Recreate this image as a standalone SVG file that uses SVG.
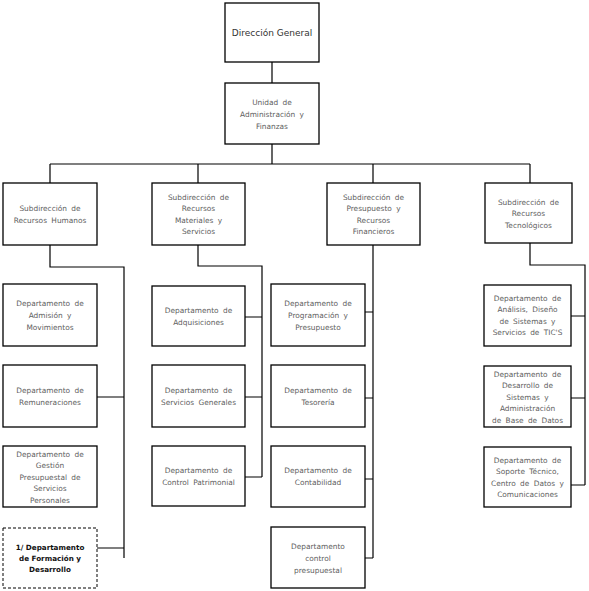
<svg xmlns="http://www.w3.org/2000/svg" width="589" height="591" viewBox="0 0 589 591">
<style>
rect.b{fill:#fff;stroke:#000;stroke-width:1.3}
rect.d{fill:#fff;stroke:#000;stroke-width:1;stroke-dasharray:3 2}
text{font-family:"DejaVu Sans",Verdana,sans-serif;font-size:7.4px;fill:#606060;text-anchor:middle;dominant-baseline:central;word-spacing:2px}
text.t{font-size:9px;fill:#333;word-spacing:0}
text.k{fill:#111;font-weight:bold;font-size:7.2px;word-spacing:0}
#connectors path{fill:none;stroke:#000;stroke-width:1.2}
</style>
<rect width="589" height="591" fill="#fff"/>
<g id="connectors">
<path d="M272 62V83M272 144V164M50 164H530M50 164V183M198 164V183M373 164V183M530 164V183"/>
<path d="M50 245V267H124V558M97 397H124M97 548H124"/>
<path d="M198 245V266H262V477M245 317H262M245 397H262M245 477H262"/>
<path d="M373 245V558M365 312H373M365 398H373M365 479H373M365 558H373"/>
<path d="M530 243V265H585V485M571 316H585M571 398H585M571 485H585"/>
</g>
<g id="dg"><rect class="b" x="225" y="3" width="94" height="59"/><text class="t" x="272" y="33">Dirección General</text></g>
<g id="uaf"><rect class="b" x="225" y="83" width="94" height="61"/><text x="272" y="102">Unidad de</text><text x="272" y="114">Administración y</text><text x="272" y="126">Finanzas</text></g>
<g id="srh"><rect class="b" x="3" y="183" width="94" height="62"/><text x="50" y="208">Subdirección de</text><text x="50" y="220">Recursos Humanos</text></g>
<g id="srm"><rect class="b" x="152" y="183" width="93" height="62"/><text x="198.5" y="197">Subdirección de</text><text x="198.5" y="208.5">Recursos</text><text x="198.5" y="220">Materiales y</text><text x="198.5" y="231.5">Servicios</text></g>
<g id="spf"><rect class="b" x="327" y="183" width="93" height="62"/><text x="373.5" y="197">Subdirección de</text><text x="373.5" y="208.5">Presupuesto y</text><text x="373.5" y="220">Recursos</text><text x="373.5" y="231.5">Financieros</text></g>
<g id="srt"><rect class="b" x="485" y="183" width="87" height="60"/><text x="528.5" y="202">Subdirección de</text><text x="528.5" y="213.5">Recursos</text><text x="528.5" y="225">Tecnológicos</text></g>

<g id="d11"><rect class="b" x="3" y="284" width="94" height="62"/><text x="50" y="303">Departamento de</text><text x="50" y="315">Admisión y</text><text x="50" y="327">Movimientos</text></g>
<g id="d12"><rect class="b" x="3" y="365" width="94" height="62"/><text x="50" y="390">Departamento de</text><text x="50" y="402">Remuneraciones</text></g>
<g id="d13"><rect class="b" x="3" y="446" width="94" height="61"/><text x="50" y="454">Departamento de</text><text x="50" y="465.5">Gestión</text><text x="50" y="477">Presupuestal de</text><text x="50" y="488.5">Servicios</text><text x="50" y="500">Personales</text></g>
<g id="d14"><rect class="d" x="3" y="528" width="94" height="60"/><text class="k" x="50" y="547">1/ Departamento</text><text class="k" x="50" y="558">de Formación y</text><text class="k" x="50" y="569">Desarrollo</text></g>

<g id="d21"><rect class="b" x="152" y="286" width="93" height="60"/><text x="198.5" y="310">Departamento de</text><text x="198.5" y="322">Adquisiciones</text></g>
<g id="d22"><rect class="b" x="152" y="365" width="93" height="62"/><text x="198.5" y="390">Departamento de</text><text x="198.5" y="402">Servicios Generales</text></g>
<g id="d23"><rect class="b" x="152" y="446" width="93" height="60"/><text x="198.5" y="470">Departamento de</text><text x="198.5" y="482">Control Patrimonial</text></g>

<g id="d31"><rect class="b" x="271" y="284" width="94" height="62"/><text x="318" y="303">Departamento de</text><text x="318" y="315">Programación y</text><text x="318" y="327">Presupuesto</text></g>
<g id="d32"><rect class="b" x="271" y="365" width="94" height="62"/><text x="318" y="390">Departamento de</text><text x="318" y="402">Tesorería</text></g>
<g id="d33"><rect class="b" x="271" y="446" width="94" height="61"/><text x="318" y="470">Departamento de</text><text x="318" y="482">Contabilidad</text></g>
<g id="d34"><rect class="b" x="271" y="527" width="94" height="61"/><text x="318" y="546">Departamento</text><text x="318" y="558">control</text><text x="318" y="570">presupuestal</text></g>

<g id="d41"><rect class="b" x="484" y="285" width="87" height="61"/><text x="527.5" y="298">Departamento de</text><text x="527.5" y="309.5">Análisis, Diseño</text><text x="527.5" y="321">de Sistemas y</text><text x="527.5" y="332.5">Servicios de TIC'S</text></g>
<g id="d42"><rect class="b" x="484" y="366" width="87" height="61"/><text x="527.5" y="374">Departamento de</text><text x="527.5" y="385.5">Desarrollo de</text><text x="527.5" y="397">Sistemas y</text><text x="527.5" y="408.5">Administración</text><text x="527.5" y="420">de Base de Datos</text></g>
<g id="d43"><rect class="b" x="484" y="447" width="87" height="60"/><text x="527.5" y="460">Departamento de</text><text x="527.5" y="471.5">Soporte Técnico,</text><text x="527.5" y="483">Centro de Datos y</text><text x="527.5" y="494.5">Comunicaciones</text></g>
</svg>
